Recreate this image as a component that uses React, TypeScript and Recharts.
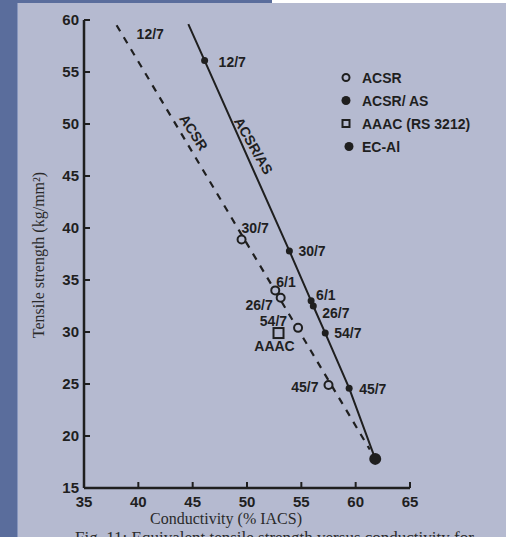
import React from 'react';
import { ComposedChart, Line, Scatter, XAxis, YAxis, Legend, ReferenceDot, LabelList } from 'recharts';

const xTicks = [35, 40, 45, 50, 55, 60, 65];
const yTicks = [15, 20, 25, 30, 35, 40, 45, 50, 55, 60];

// ACSR (open circles)
const acsrLabels = ['30/7', '6/1', '26/7', '54/7', '45/7'];
const acsrConductivity = [49.5, 52.6, 53.1, 54.7, 57.5];
const acsrStrength = [38.9, 34.0, 33.3, 30.4, 24.9];

// ACSR/AS (filled dots)
const acsrAsLabels = ['12/7', '30/7', '6/1', '26/7', '54/7', '45/7'];
const acsrAsConductivity = [46.1, 53.9, 55.9, 56.1, 57.2, 59.4];
const acsrAsStrength = [56.1, 37.8, 33.0, 32.5, 29.9, 24.6];

// AAAC (RS 3212)
const aaacConductivity = [52.9];
const aaacStrength = [29.9];

// EC-Al
const ecAlConductivity = [61.8];
const ecAlStrength = [17.8];

// dashed ACSR trend line end points, the top one labelled 12/7
const acsrTrendConductivity = [38.0, 61.3];
const acsrTrendStrength = [59.5, 18.7];
const acsrTrendLabels = ['12/7', ''];

// top end of the solid ACSR/AS line
const acsrAsTopConductivity = 44.6;
const acsrAsTopStrength = 59.6;

const legendNames = ['ACSR', 'ACSR/ AS', 'AAAC (RS 3212)', 'EC-Al'];

const INK = '#1f1f1f';
const BG = '#b5bad0';
const SANS = '"Liberation Sans", Arial, sans-serif';
const SERIF = '"Liberation Serif", "Times New Roman", serif';

// label placement around the marks: [anchor, dx, dy]
type Place = ['start' | 'middle' | 'end', number, number];
const acsrPlace: Record<string, Place> = {
  '30/7': ['start', 0, -11],
  '6/1': ['start', 1, -8],
  '26/7': ['end', -8, 7],
  '54/7': ['end', -11, -7],
  '45/7': ['end', -10, 2],
};
const acsrAsPlace: Record<string, Place> = {
  '12/7': ['start', 14, 1],
  '30/7': ['start', 9, 0],
  '6/1': ['start', 5, -6],
  '26/7': ['start', 9, 7],
  '54/7': ['start', 9, 0],
  '45/7': ['start', 10, 1],
};
const aaacPlace: Place = ['middle', -4, 13];

const acsrData = acsrLabels.map((label, i) => ({ x: acsrConductivity[i], y: acsrStrength[i], label }));
const acsrAsData = acsrAsLabels.map((label, i) => ({ x: acsrAsConductivity[i], y: acsrAsStrength[i], label }));
const aaacData = aaacConductivity.map((x, i) => ({ x, y: aaacStrength[i], label: 'AAAC' }));
const ecAlData = ecAlConductivity.map((x, i) => ({ x, y: ecAlStrength[i] }));
const acsrTrend = acsrTrendConductivity.map((x, i) => ({ x, y: acsrTrendStrength[i], label: acsrTrendLabels[i] }));
const acsrAsLine = [
  { x: acsrAsTopConductivity, y: acsrAsTopStrength },
  ...acsrAsData,
  ...ecAlData,
];

const PointText = ({ cx, cy, text, place }: { cx: number; cy: number; text: string; place?: Place }) => {
  if (!place) return null;
  const [anchor, dx, dy] = place;
  return (
    <text x={cx + dx} y={cy + dy + 5} textAnchor={anchor} fontFamily={SANS} fontWeight="bold" fontSize={14} fill={INK}>
      {text}
    </text>
  );
};

const YTick = (props: any) => {
  const { x, y, payload } = props;
  return (
    <g>
      <line x1={x + 5} x2={x + 11} y1={y} y2={y} stroke={INK} strokeWidth={2} />
      <text x={x} y={y + 5} textAnchor="end" fontFamily={SANS} fontWeight="bold" fontSize={15} fill={INK}>
        {payload.value}
      </text>
    </g>
  );
};

const XTick = (props: any) => {
  const { x, y, payload } = props;
  return (
    <g>
      <line x1={x} x2={x} y1={y - 6} y2={y - 12} stroke={INK} strokeWidth={2} />
      <text x={x} y={y + 13} textAnchor="middle" fontFamily={SANS} fontWeight="bold" fontSize={15} fill={INK}>
        {payload.value}
      </text>
    </g>
  );
};

const LegendBox = () => {
  const marks = [
    <circle cx={10} cy={11.5} r={3.5} fill="none" stroke={INK} strokeWidth={2} />,
    <circle cx={10} cy={11.5} r={4.5} fill={INK} />,
    <rect x={6.5} y={8} width={7} height={7} fill="none" stroke={INK} strokeWidth={2} />,
    <circle cx={13} cy={11.5} r={4.5} fill={INK} />,
  ];
  return (
    <div>
      {legendNames.map((name, i) => (
        <div key={name} style={{ display: 'flex', alignItems: 'center', height: 23 }}>
          <svg width={26} height={23}>{marks[i]}</svg>
          <span style={{ fontFamily: SANS, fontWeight: 'bold', fontSize: 14, color: INK }}>{name}</span>
        </div>
      ))}
    </div>
  );
};

export default function App() {
  return (
    <div style={{ position: 'absolute', left: 0, top: 0, width: 506, height: 537, overflow: 'hidden', background: BG }}>
      <div style={{ position: 'absolute', left: 0, top: 0, width: 17, height: 537, background: '#5a6d9c', borderRight: '1px solid #8796bd' }} />
      <div style={{ position: 'absolute', left: 0, top: 0, width: 272, height: 3, background: '#5a6d9c' }} />
      <div style={{ position: 'absolute', left: 272, top: 0, width: 234, height: 3, background: '#ffffff' }} />
      <div style={{ position: 'absolute', left: 75, top: 528, lineHeight: '20px', whiteSpace: 'nowrap', fontFamily: SERIF, fontSize: 17, color: '#2a2a2a' }}>
        Fig. 11: Equivalent tensile strength versus conductivity for
      </div>
      <ComposedChart width={506} height={537} margin={{ top: 20, right: 96, bottom: 19, left: 44 }} style={{ position: 'absolute', left: 0, top: 0 }}>
        <XAxis
          dataKey="x"
          type="number"
          domain={[35, 65]}
          ticks={xTicks}
          interval={0}
          allowDataOverflow
          height={30}
          tickSize={0}
          tickMargin={6}
          tickLine={false}
          tick={<XTick />}
          axisLine={{ stroke: INK, strokeWidth: 2.5 }}
          label={{
            value: 'Conductivity (% IACS)',
            content: (p: any) => (
              <text x={p.viewBox.x + 142} y={p.viewBox.y + 36} textAnchor="middle" fontFamily={SERIF} fontSize={16} fill="#2a2a2a">
                Conductivity (% IACS)
              </text>
            ),
          }}
        />
        <YAxis
          dataKey="y"
          type="number"
          domain={[15, 60]}
          ticks={yTicks}
          interval={0}
          allowDataOverflow
          width={40}
          tickSize={0}
          tickMargin={5}
          tickLine={false}
          tick={<YTick />}
          axisLine={{ stroke: INK, strokeWidth: 2.5 }}
          label={{
            value: 'Tensile strength (kg/mm²)',
            content: (p: any) => {
              const cx = p.viewBox.x - 6;
              const cy = p.viewBox.y + p.viewBox.height / 2 + 1;
              return (
                <text x={cx} y={cy} transform={`rotate(-90 ${cx} ${cy})`} textAnchor="middle" dominantBaseline="central" fontFamily={SERIF} fontSize={16} fill="#2a2a2a">
                  Tensile strength (kg/mm²)
                </text>
              );
            },
          }}
        />
        <Line
          data={acsrTrend}
          dataKey="y"
          type="linear"
          stroke={INK}
          strokeWidth={2.2}
          strokeDasharray="7 7"
          dot={false}
          activeDot={false}
          isAnimationActive={false}
          legendType="none"
        >
          <LabelList
            dataKey="label"
            content={(p: any) =>
              p.value ? <PointText cx={p.x} cy={p.y} text={p.value} place={['start', 20, 9]} /> : null
            }
          />
        </Line>
        <Line
          data={acsrAsLine}
          dataKey="y"
          type="linear"
          stroke={INK}
          strokeWidth={2}
          dot={false}
          activeDot={false}
          isAnimationActive={false}
          legendType="none"
        />
        <Scatter
          data={acsrData}
          isAnimationActive={false}
          shape={(p: any) => (
            <g>
              <circle cx={p.cx} cy={p.cy} r={4} fill={BG} stroke={INK} strokeWidth={2} />
              <PointText cx={p.cx} cy={p.cy} text={p.payload.label} place={acsrPlace[p.payload.label]} />
            </g>
          )}
        />
        <Scatter
          data={acsrAsData}
          isAnimationActive={false}
          shape={(p: any) => (
            <g>
              <circle cx={p.cx} cy={p.cy} r={3.5} fill={INK} />
              <PointText cx={p.cx} cy={p.cy} text={p.payload.label} place={acsrAsPlace[p.payload.label]} />
            </g>
          )}
        />
        <Scatter
          data={aaacData}
          isAnimationActive={false}
          shape={(p: any) => (
            <g>
              <rect x={p.cx - 5} y={p.cy - 5} width={10} height={10} fill={BG} stroke={INK} strokeWidth={2} />
              <PointText cx={p.cx} cy={p.cy} text={p.payload.label} place={aaacPlace} />
            </g>
          )}
        />
        <Scatter
          data={ecAlData}
          isAnimationActive={false}
          shape={(p: any) => <circle cx={p.cx} cy={p.cy} r={6} fill={INK} />}
        />
        <ReferenceDot
          x={45.1}
          y={49.2}
          r={0}
          shape={(p: any) => (
            <text x={p.cx} y={p.cy} transform={`rotate(57 ${p.cx} ${p.cy})`} textAnchor="middle" dominantBaseline="central" fontFamily={SANS} fontWeight="bold" fontSize={14} fill={INK}>
              ACSR
            </text>
          )}
        />
        <ReferenceDot
          x={50.6}
          y={47.9}
          r={0}
          shape={(p: any) => (
            <text x={p.cx} y={p.cy} transform={`rotate(60 ${p.cx} ${p.cy})`} textAnchor="middle" dominantBaseline="central" fontFamily={SANS} fontWeight="bold" fontSize={14} fill={INK}>
              ACSR/AS
            </text>
          )}
        />
        <Legend layout="vertical" align="center" verticalAlign="middle" wrapperStyle={{ left: 336, top: 66, width: 170 }} content={() => <LegendBox />} />
      </ComposedChart>
    </div>
  );
}
